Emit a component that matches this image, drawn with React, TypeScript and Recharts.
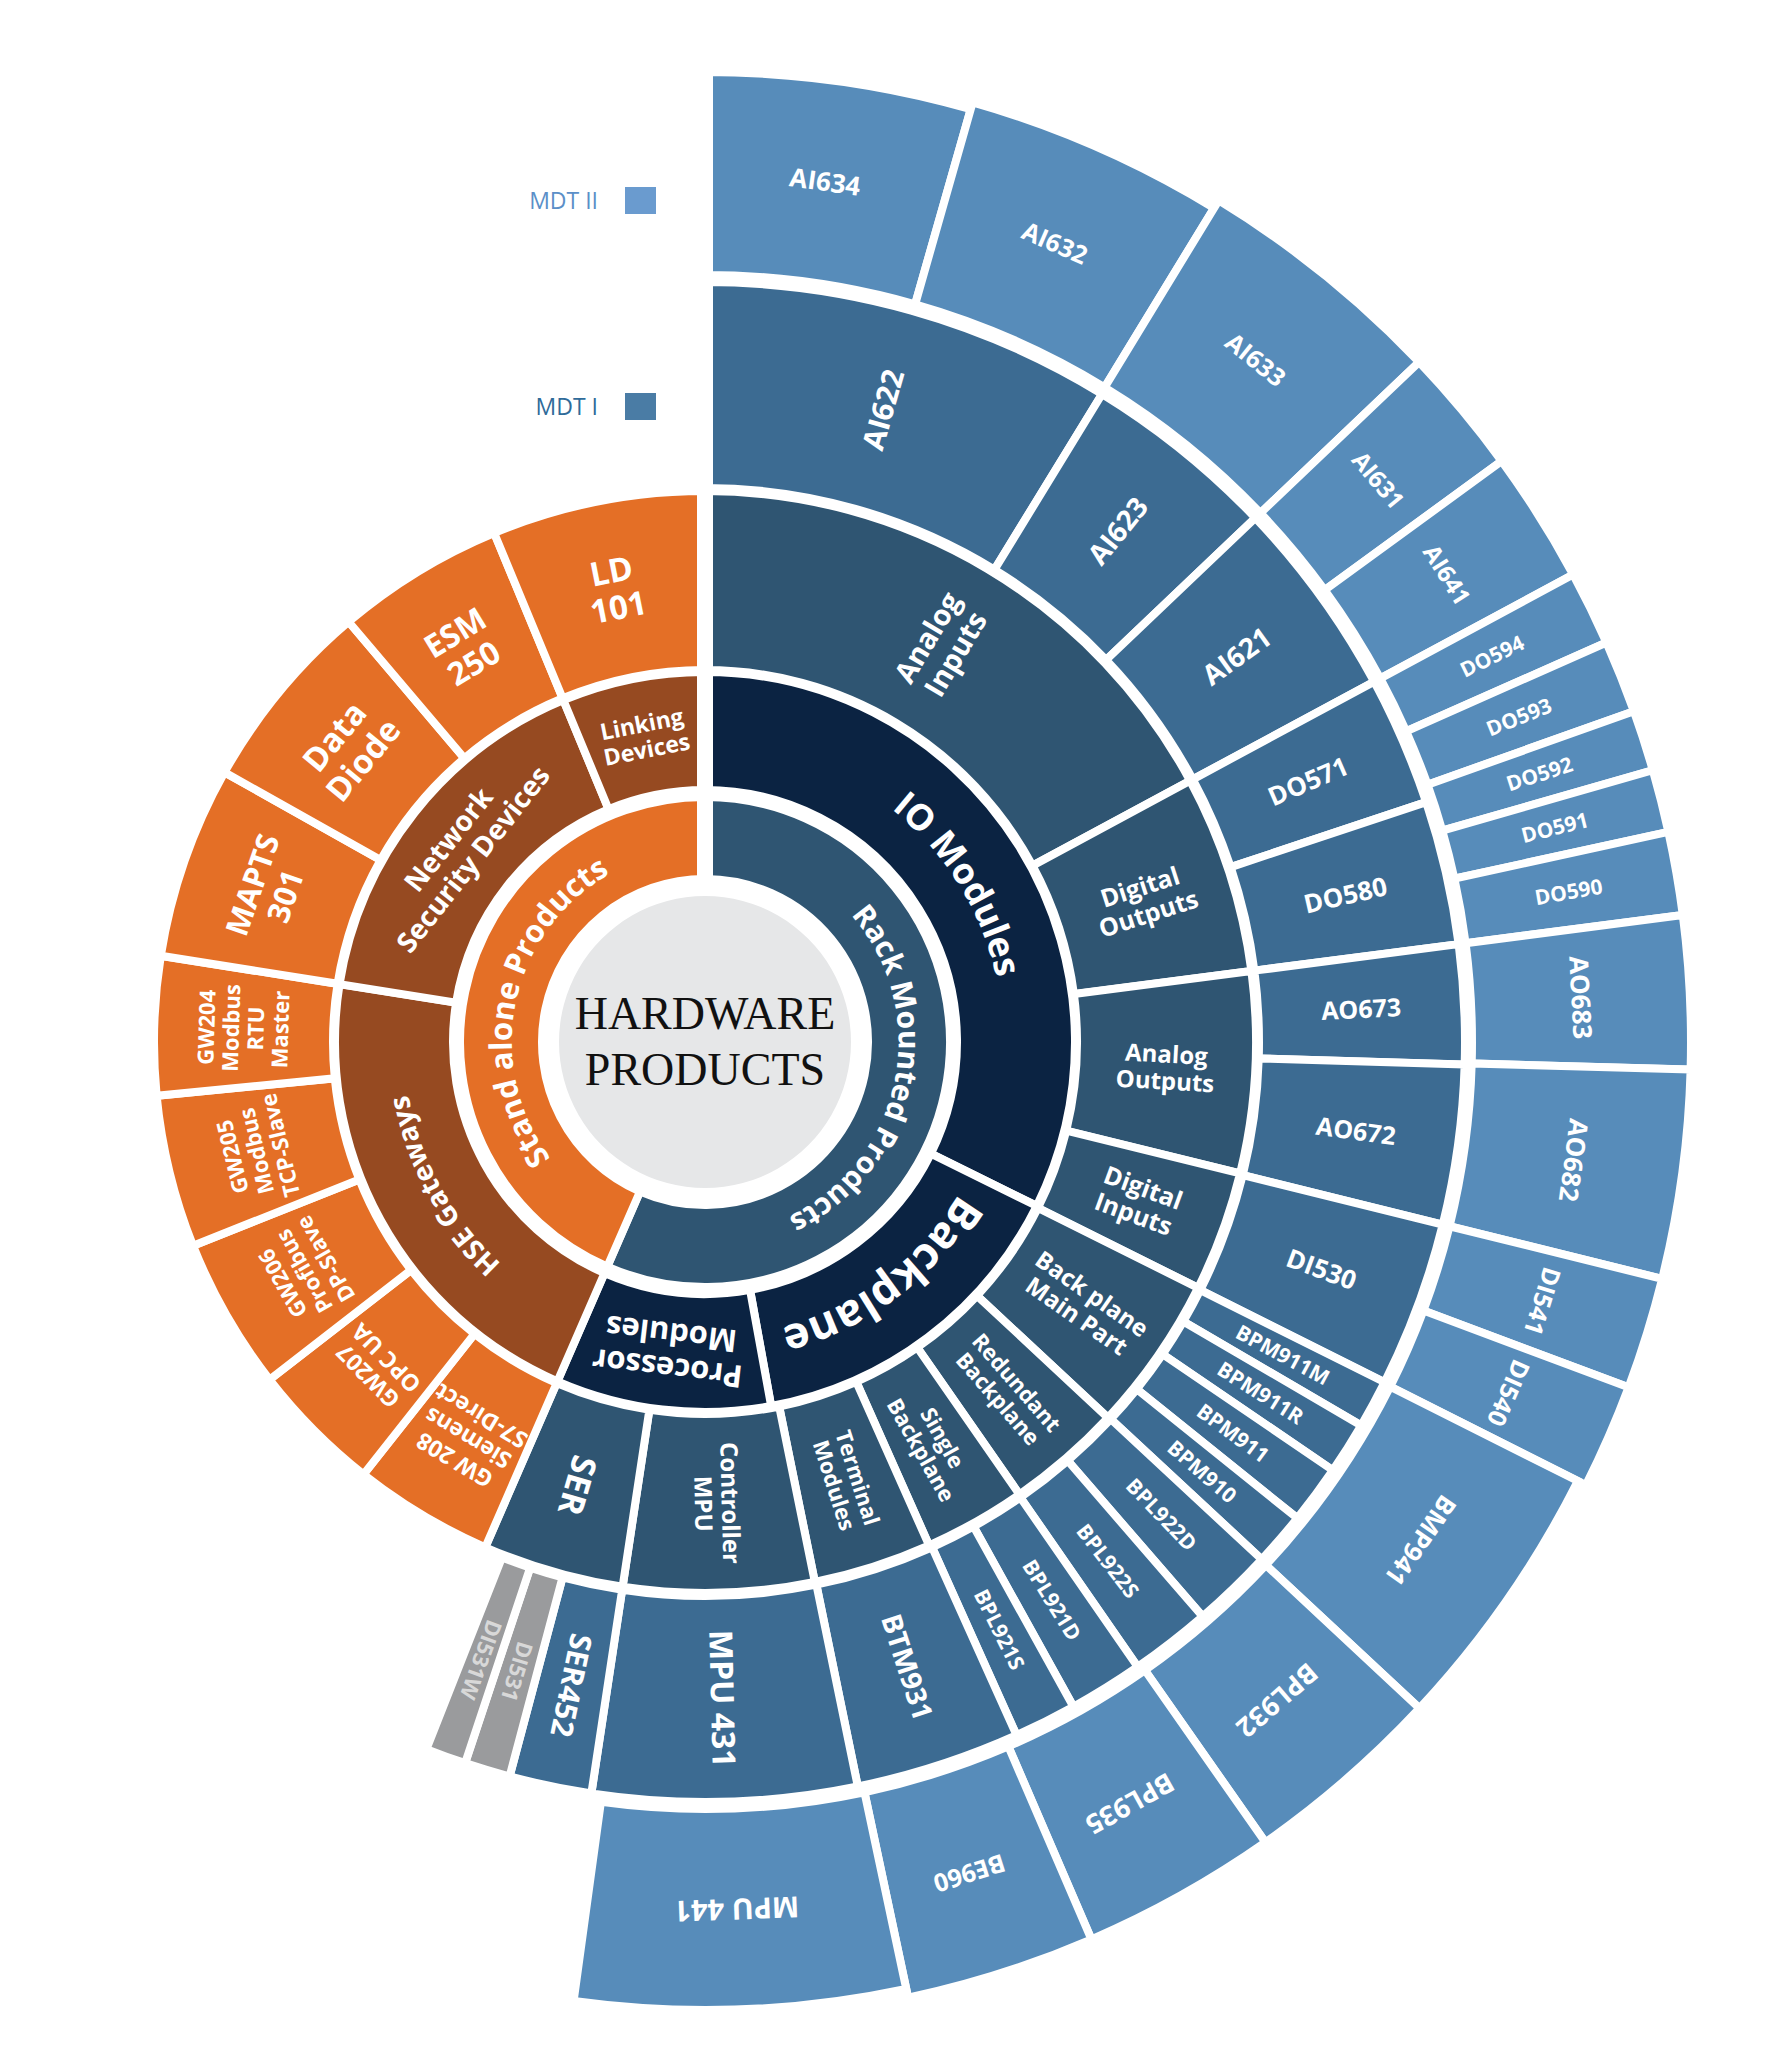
import React from 'react';
import { PieChart, Pie, Cell } from 'recharts';

const CHART_W = 1772;
const CHART_H = 2064;
const CX = 705;
const CY = 1042;
const FONT = '"Open Sans", "Noto Sans", sans-serif';

// every value is the angular width of a block in degrees, clockwise from 12 o'clock
const centerNames = ['HARDWARE\nPRODUCTS'];
const centerValues = [360];

const ring1Names = ['Rack Mounted Products', 'Stand alone Products'];
const ring1Values = [203.5, 156.5];

const ring2Names = ['IO Modules', 'Backplane', 'Processor\nModules', 'HSE Gateways', 'Network\nSecurity Devices', 'Linking\nDevices'];
const ring2Values = [116.3, 53.4, 33.8, 75.5, 58.5, 22.5];

const ring3Names = [
  'Analog\nInputs', 'Digital\nOutputs', 'Analog\nOutputs', 'Digital\nInputs',
  'Back plane\nMain Part', 'Redundant\nBackplane', 'Single\nBackplane', 'Terminal\nModules',
  'Controller\nMPU', 'SER',
  'GW 208\nSiemens\nS7-Direct', 'GW207\nOPC UA', 'GW206\nProfibus\nDP-Slave', 'GW205\nModbus\nTCP-Slave',
  'GW204\nModbus\nRTU\nMaster', 'MAPTS\n301', 'Data\nDiode', 'ESM\n250', 'LD\n101',
];
const ring3Values = [61.7, 20.9, 21.2, 12.7, 16.5, 12.2, 10.8, 12.5, 20.1, 14.9, 14.8, 13.9, 16.1, 16.1, 14.6, 20.3, 20.4, 17.8, 22.5];

const ring4Names = [
  'AI622', 'AI623', 'AI621', 'DO571', 'DO580', 'AO673', 'AO672', 'DI530',
  'BPM911M', 'BPM911R', 'BPM911', 'BPM910', 'BPL922D', 'BPL922S', 'BPL921D', 'BPL921S',
  'BTM931', 'MPU 431', 'SER452', 'DI531', 'DI531W',
];
const ring4Values = [31.5, 14.9, 15.3, 9.9, 11.0, 9.1, 12.2, 12.7, 3.7, 4.0, 4.5, 4.1, 6.2, 6.2, 5.7, 4.8, 12.6, 20.2, 6.3, 3.5, 3.1];

const ring5Names = [
  'AI634', 'AI632', 'AI633', 'AI631', 'AI641', 'DO594', 'DO593', 'DO592', 'DO591', 'DO590',
  'AO683', 'AO682', 'DI541', 'DI540', 'BMP941', 'BPL932', 'BPL935', 'BE960', 'MPU 441',
];
const ring5Values = [15.9, 15.5, 15.0, 7.5, 7.8, 4.4, 4.3, 3.6, 3.7, 4.9, 9.0, 12.3, 6.6, 6.2, 16.3, 12.0, 11.7, 11.3, 19.8];

const legendNames = ['MDT II', 'MDT I'];

const NAVY = '#0b2342';
const SLATE = '#2f5572';
const BLUE = '#3c6b92';
const LIGHT = '#578cba';
const ORANGE = '#e46f26';
const BROWN = '#964a21';
const GREY = '#9a9b9d';
const CENTER = '#e6e7e8';

type Row = { name: string; value: number };
const toRows = (names: string[], values: number[]): Row[] => names.map((name, i) => ({ name, value: values[i] }));
const total = (values: number[]) => values.reduce((a, b) => a + b, 0);

const ring1Colors = [SLATE, ORANGE];
const ring2Colors = [NAVY, NAVY, NAVY, BROWN, BROWN, BROWN];
const ring3Colors = ring3Names.map((_, i) => (i < 10 ? SLATE : ORANGE));
const ring4Colors = ring4Names.map((n) => (n.startsWith('DI531') ? GREY : BLUE));
const ring5Colors = ring5Names.map(() => LIGHT);

const FONT_SIZE: Record<string, number> = {
  'Rack Mounted Products': 30, 'Stand alone Products': 31,
  'IO Modules': 36, Backplane: 44, 'Processor\nModules': 31, 'HSE Gateways': 28,
  'Network\nSecurity Devices': 28, 'Linking\nDevices': 23,
  'Analog\nInputs': 29, 'Digital\nOutputs': 25, 'Analog\nOutputs': 24, 'Digital\nInputs': 25,
  'Back plane\nMain Part': 24, 'Redundant\nBackplane': 22, 'Single\nBackplane': 22, 'Terminal\nModules': 22,
  'Controller\nMPU': 24, SER: 34,
  'GW 208\nSiemens\nS7-Direct': 23, 'GW207\nOPC UA': 23, 'GW206\nProfibus\nDP-Slave': 22,
  'GW205\nModbus\nTCP-Slave': 22, 'GW204\nModbus\nRTU\nMaster': 22, 'MAPTS\n301': 31,
  'Data\nDiode': 33, 'ESM\n250': 32, 'LD\n101': 33,
  AI622: 30, AI623: 28, AI621: 28, DO571: 26, DO580: 26, AO673: 25, AO672: 25, DI530: 26,
  BTM931: 28, 'MPU 431': 32, SER452: 30, DI531: 22, DI531W: 22,
  AI634: 26, AI632: 25, AI633: 25, AI631: 24, AI641: 24,
  AO683: 26, AO682: 26, DI541: 25, DI540: 25, BMP941: 26, BPL932: 27, BPL935: 27, BE960: 25, 'MPU 441': 29,
};

const ARC = new Set(['Rack Mounted Products', 'Stand alone Products', 'IO Modules', 'Backplane', 'HSE Gateways']);
const RADIAL = new Set([...ring3Names.slice(0, 10), ...ring4Names, 'DO594', 'DO593', 'DO592', 'DO591', 'DO590']);

const polar = (r: number, deg: number) => {
  const a = (deg * Math.PI) / 180;
  return [CX + r * Math.sin(a), CY - r * Math.cos(a)];
};

function renderLabel(key: string) {
  return (props: any) => {
    const name: string = props.payload?.name ?? props.name;
    const value: number = props.payload?.value ?? props.value;
    if (!name) return null;
    const theta = 90 - props.midAngle;
    const rMid = (props.innerRadius + props.outerRadius) / 2;
    const id = `${key}-${String(name).replace(/[^A-Za-z0-9]/g, '')}`;

    if (key === 'center') {
      const lines = name.split('\n');
      return (
        <text key={id} x={CX} y={CY} textAnchor="middle" fill="#111" fontSize={46}
          fontFamily='"Liberation Serif", "Times New Roman", serif'>
          {lines.map((ln, i) => (
            <tspan key={i} x={CX} y={CY - 13 + i * 56}>{ln}</tspan>
          ))}
        </text>
      );
    }

    const fs = FONT_SIZE[name] ?? 21;
    const fill = name.startsWith('DI531') ? '#d8d8d8' : '#ffffff';

    if (ARC.has(name)) {
      const rb = rMid - fs * 0.35;
      const [x1, y1] = polar(rb, theta - value / 2);
      const [x2, y2] = polar(rb, theta + value / 2);
      return (
        <g key={id}>
          <path id={id} d={`M ${x1} ${y1} A ${rb} ${rb} 0 ${value > 180 ? 1 : 0} 1 ${x2} ${y2}`} fill="none" stroke="none" />
          <text fill={fill} fontSize={fs} fontFamily={FONT} fontWeight={700}>
            <textPath href={`#${id}`} startOffset="50%" textAnchor="middle">{name}</textPath>
          </text>
        </g>
      );
    }

    const rot = RADIAL.has(name) ? theta - 90 : theta;
    const [x, y] = polar(rMid, theta);
    const lines = name.split('\n');
    const lh = 1.12;
    return (
      <text key={id} x={x} y={y} transform={`rotate(${rot} ${x} ${y})`} textAnchor="middle" fill={fill}
        fontSize={fs} fontFamily={FONT} fontWeight={700}>
        {lines.map((ln, i) => (
          <tspan key={i} x={x} dy={i === 0 ? `${0.35 - ((lines.length - 1) * lh) / 2}em` : `${lh}em`}>{ln}</tspan>
        ))}
      </text>
    );
  };
}

type Ring = {
  key: string;
  names: string[];
  values: number[];
  colors: string[];
  inner: number;
  outer: number;
  // the outermost ring bulges on its right side, so it is drawn in runs of blocks
  runs?: { count: number; outer: number }[];
};

const rings: Ring[] = [
  { key: 'r1', names: ring1Names, values: ring1Values, colors: ring1Colors, inner: 163, outer: 245 },
  { key: 'r2', names: ring2Names, values: ring2Values, colors: ring2Colors, inner: 252, outer: 370 },
  { key: 'r3', names: ring3Names, values: ring3Values, colors: ring3Colors, inner: 372, outer: 551 },
  { key: 'r4', names: ring4Names, values: ring4Values, colors: ring4Colors, inner: 554, outer: 760 },
  {
    key: 'r5', names: ring5Names, values: ring5Values, colors: ring5Colors, inner: 767, outer: 970,
    runs: [
      { count: 1, outer: 970 },
      { count: 1, outer: 977 },
      { count: 12, outer: 986 },
      { count: 4, outer: 977 },
      { count: 1, outer: 968 },
    ],
  },
];

function ringPies(ring: Ring) {
  const runs = ring.runs ?? [{ count: ring.names.length, outer: ring.outer }];
  let from = 0;
  return runs.map((run, k) => {
    const names = ring.names.slice(from, from + run.count);
    const values = ring.values.slice(from, from + run.count);
    const colors = ring.colors.slice(from, from + run.count);
    const start = 90 - total(ring.values.slice(0, from));
    from += run.count;
    return (
      <Pie
        key={`${ring.key}-${k}`}
        data={toRows(names, values)}
        dataKey="value"
        nameKey="name"
        cx={CX}
        cy={CY}
        innerRadius={ring.inner}
        outerRadius={run.outer}
        startAngle={start}
        endAngle={start - total(values)}
        stroke="#ffffff"
        strokeWidth={8}
        label={renderLabel(`${ring.key}${k}`)}
        labelLine={false}
        isAnimationActive={false}
      >
        {names.map((n, i) => (
          <Cell key={n} fill={colors[i]} />
        ))}
      </Pie>
    );
  });
}

const legendColors = ['#6a9bcf', '#4a7ca5'];
const legendTextColors = ['#5b8fc8', '#2f6b9a'];
const legendTops = [187, 393];

export default function App() {
  return (
    <div style={{ position: 'absolute', left: 0, top: 0, width: CHART_W, height: CHART_H, background: '#fff' }}>
      <PieChart width={CHART_W} height={CHART_H} margin={{ top: 0, right: 0, bottom: 0, left: 0 }}>
        <Pie
          data={toRows(centerNames, centerValues)}
          dataKey="value"
          nameKey="name"
          cx={CX}
          cy={CY}
          innerRadius={0}
          outerRadius={146}
          startAngle={90}
          endAngle={-270}
          stroke="none"
          label={renderLabel('center')}
          labelLine={false}
          isAnimationActive={false}
        >
          <Cell fill={CENTER} />
        </Pie>
        {rings.flatMap((ring) => ringPies(ring))}
      </PieChart>
      {/* wide white gap between the two product families */}
      <div style={{ position: 'absolute', left: CX - 8, top: CY - 1000, width: 16, height: 1000 - 150, background: '#fff' }} />
      {legendNames.map((n, i) => (
        <div key={n}>
          <div style={{
            position: 'absolute', right: CHART_W - 598, top: legendTops[i] - 2, fontFamily: FONT, fontSize: 23,
            color: legendTextColors[i], lineHeight: '31px', whiteSpace: 'nowrap',
          }}>{n}</div>
          <div style={{ position: 'absolute', left: 625, top: legendTops[i], width: 31, height: 27, background: legendColors[i] }} />
        </div>
      ))}
    </div>
  );
}
